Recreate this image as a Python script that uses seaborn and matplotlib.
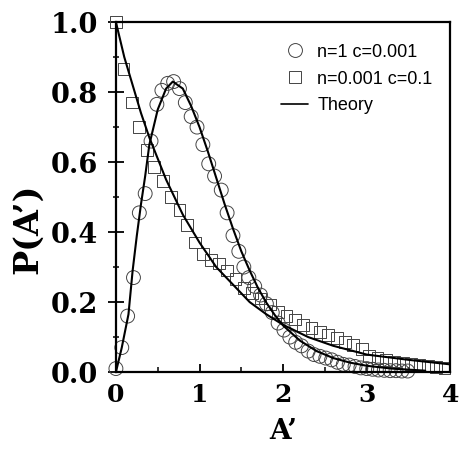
"""
P(A') distribution: simulation points vs theory curves
"""

import numpy as np
import pandas as pd
import matplotlib
matplotlib.use("Agg")
import matplotlib.pyplot as plt
from matplotlib.lines import Line2D
from matplotlib.ticker import MultipleLocator, FormatStrFormatter
import seaborn as sns

# Simulation n=1 c=0.001 (circles)
circ_a = [0.00, 0.07, 0.14, 0.21, 0.28, 0.35, 0.42, 0.49, 0.55, 0.62,
          0.69, 0.76, 0.83, 0.90, 0.97, 1.04, 1.11, 1.18, 1.26, 1.33,
          1.40, 1.47, 1.53, 1.59, 1.66, 1.73, 1.80, 1.87, 1.94, 2.01,
          2.08, 2.15, 2.22, 2.30, 2.37, 2.44, 2.51, 2.58, 2.65, 2.72,
          2.79, 2.86, 2.93, 3.00, 3.07, 3.14, 3.21, 3.28, 3.35, 3.42, 3.49]
circ_p = [0.010, 0.070, 0.160, 0.270, 0.455, 0.510, 0.660, 0.765, 0.805, 0.825,
          0.830, 0.810, 0.770, 0.730, 0.700, 0.650, 0.595, 0.560, 0.520, 0.455,
          0.390, 0.345, 0.300, 0.270, 0.245, 0.220, 0.195, 0.170, 0.140, 0.120,
          0.100, 0.085, 0.075, 0.060, 0.050, 0.045, 0.040, 0.035, 0.028, 0.022,
          0.020, 0.016, 0.012, 0.010, 0.008, 0.006, 0.005, 0.004, 0.004, 0.003, 0.003]

# Simulation n=0.001 c=0.1 (squares)
sq_a = [0.00, 0.09, 0.19, 0.28, 0.37, 0.46, 0.56, 0.66, 0.76, 0.85,
        0.95, 1.04, 1.14, 1.23, 1.33, 1.43, 1.53, 1.63, 1.73, 1.84,
        1.94, 2.04, 2.14, 2.24, 2.34, 2.44, 2.54, 2.64, 2.74, 2.84,
        2.94, 3.03, 3.13, 3.23, 3.33, 3.43, 3.53, 3.63, 3.73, 3.83, 3.93]
sq_p = [1.000, 0.865, 0.770, 0.700, 0.635, 0.587, 0.545, 0.500, 0.462, 0.420,
        0.370, 0.337, 0.320, 0.310, 0.290, 0.265, 0.240, 0.227, 0.210, 0.193,
        0.172, 0.160, 0.150, 0.135, 0.125, 0.115, 0.105, 0.097, 0.087, 0.078,
        0.065, 0.045, 0.040, 0.035, 0.030, 0.027, 0.022, 0.020, 0.017, 0.014, 0.012]

# Theory curves
th1_a = [0.00, 0.07, 0.15, 0.20, 0.25, 0.30, 0.35, 0.40, 0.50, 0.60,
         0.68, 0.80, 0.90, 1.00, 1.10, 1.20, 1.30, 1.40, 1.50, 1.60,
         1.70, 1.80, 1.90, 2.00, 2.20, 2.40, 2.60, 2.80, 3.00, 3.30, 3.70]
th1_p = [0.000, 0.070, 0.165, 0.290, 0.390, 0.480, 0.560, 0.650, 0.750, 0.810,
         0.830, 0.810, 0.760, 0.700, 0.630, 0.555, 0.480, 0.410, 0.345, 0.290,
         0.240, 0.198, 0.163, 0.133, 0.090, 0.060, 0.040, 0.027, 0.018, 0.010, 0.004]

th2_a = [0.0, 0.1, 0.2, 0.3, 0.4, 0.5, 0.6, 0.7, 0.8, 0.9,
         1.0, 1.2, 1.4, 1.6, 1.8, 2.0, 2.3, 2.6, 3.0, 3.5, 4.0]
th2_p = [1.000, 0.900, 0.820, 0.740, 0.670, 0.610, 0.550, 0.500, 0.450, 0.410,
         0.370, 0.300, 0.250, 0.200, 0.165, 0.135, 0.100, 0.075, 0.050, 0.035, 0.022]

sns.set_theme(style="ticks")
plt.rcParams["font.family"] = ["DejaVu Serif"]

fig = plt.figure(figsize=(4.6, 4.51), dpi=100)
ax = fig.add_axes([0.252, 0.175, 0.727, 0.776])

edge = "#444444"
sns.lineplot(x=th1_a, y=th1_p, color="black", lw=1.5, ax=ax, zorder=3)
sns.lineplot(x=th2_a, y=th2_p, color="black", lw=1.5, ax=ax, zorder=3)
sns.scatterplot(x=circ_a, y=circ_p, marker="o", s=100, facecolor="none",
                edgecolor=edge, linewidth=0.7, ax=ax, zorder=2, clip_on=False)
sns.scatterplot(x=sq_a, y=sq_p, marker="s", s=72, facecolor="none",
                edgecolor=edge, linewidth=0.7, ax=ax, zorder=2, clip_on=False)

ax.set_xlim(0, 4)
ax.set_ylim(0, 1.0)
ax.xaxis.set_major_locator(MultipleLocator(1))
ax.xaxis.set_minor_locator(MultipleLocator(0.5))
ax.yaxis.set_major_locator(MultipleLocator(0.2))
ax.yaxis.set_minor_locator(MultipleLocator(0.1))
ax.yaxis.set_major_formatter(FormatStrFormatter("%.1f"))

ax.tick_params(axis="x", which="major", direction="in", length=6, width=1.3,
               color="black", pad=8)
ax.tick_params(axis="x", which="minor", direction="in", length=3.5, width=1.1,
               color="black")
ax.tick_params(axis="y", which="major", direction="inout", length=12, width=1.3,
               color="black", pad=7)
ax.tick_params(axis="y", which="minor", direction="inout", length=5, width=1.1,
               color="black")
for lab in ax.get_xticklabels():
    lab.set_fontsize(18)
    lab.set_fontweight("bold")
    lab.set_color("black")
for lab in ax.get_yticklabels():
    lab.set_fontsize(19.5)
    lab.set_fontweight("bold")
    lab.set_color("black")

for side in ["left", "bottom", "top", "right"]:
    ax.spines[side].set_visible(True)
    ax.spines[side].set_color("black")
    ax.spines[side].set_linewidth(1.6)

ax.set_xlabel("A’", fontsize=20, fontweight="bold", color="black")
ax.set_ylabel("P(A’)", fontsize=24, fontweight="bold", color="black")
ax.xaxis.set_label_coords(0.5, -0.13)
ax.yaxis.set_label_coords(-0.215, 0.41)

handles = [
    Line2D([], [], marker="o", ls="none", mfc="none", mec=edge, mew=0.7, ms=10),
    Line2D([], [], marker="s", ls="none", mfc="none", mec=edge, mew=0.7, ms=8.5),
    Line2D([], [], color="black", lw=1.2),
]
labels = ["n=1 c=0.001", "n=0.001 c=0.1", "Theory"]
leg = ax.legend(handles, labels, loc="upper right", bbox_to_anchor=(0.995, 0.985),
                frameon=False, handlelength=1.5, handletextpad=0.5, labelspacing=0.55,
                prop={"family": "Liberation Sans", "size": 13})
for txt in leg.get_texts():
    txt.set_color("black")

fig.savefig("out.png", dpi=100)
